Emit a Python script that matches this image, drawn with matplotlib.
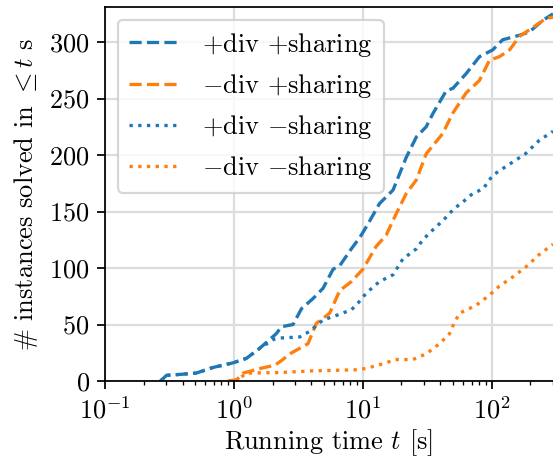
import numpy as np
import matplotlib
matplotlib.use('Agg')
import matplotlib.pyplot as plt

plt.rcParams['font.family'] = 'cmr10'
plt.rcParams['mathtext.fontset'] = 'cm'
plt.rcParams['axes.formatter.use_mathtext'] = True
plt.rcParams['font.size'] = 12

# +div +sharing
t_div_sh = [0.27, 0.30, 0.40, 0.51, 0.69, 0.98, 1.25, 1.59, 2.14, 2.34, 2.88, 3.35, 4.12, 4.92,
            5.9, 6.63, 8.17, 9.5, 11.0, 13.5, 16.2, 17.2, 21.8, 26.1, 31.1, 35.2, 44.6, 50.1,
            63.5, 80.6, 102, 122, 165, 197, 249, 300]
n_div_sh = [0, 5, 6, 7, 12, 16, 20, 29, 42, 48, 50, 64, 73, 82,
            99, 102, 117, 127, 139, 157, 166, 169, 198, 216, 225, 237, 257, 259,
            272, 287, 293, 302, 306, 309, 319, 325]

# -div +sharing
t_nodiv_sh = [0.90, 1.05, 1.18, 1.59, 2.08, 2.34, 2.72, 3.25, 3.76, 4.37, 5.54, 6.63, 8.17,
              10.05, 12.7, 15.2, 18.2, 21.8, 26.1, 31.1, 41.8, 50, 63.5, 80.6, 96.5, 115,
              138, 165, 210, 265, 300]
n_nodiv_sh = [0, 1, 7, 11, 14, 18, 24, 29, 33, 51, 60, 80, 88,
              99, 119, 129, 148, 166, 178, 201, 219, 237, 255, 266, 284, 287,
              293, 305, 313, 321, 322]

# +div -sharing
t_div_nosh = [0.27, 0.30, 0.40, 0.51, 0.69, 0.98, 1.25, 1.59, 2.05, 2.27, 3.25, 3.88, 4.92,
              6.24, 8.17, 9.2, 10.7, 13.5, 17.2, 20.5, 26.1, 29.3, 35.2, 42, 51.6, 58,
              71.6, 86, 102, 130, 183, 235, 300]
n_div_nosh = [0, 5, 6, 7, 12, 16, 20, 29, 37, 38, 39, 44, 54,
              58, 63, 69, 78, 88, 94, 108, 117, 125, 134, 142, 153, 157,
              166, 170, 182, 190, 201, 213, 221]

# -div -sharing
t_nodiv_nosh = [1.0, 1.1, 1.25, 2.27, 4.12, 9.5, 11.3, 15.2, 17.7, 24.5, 31.1, 39.5, 47.3,
                51.6, 56.5, 76, 96.5, 115, 146, 185, 235, 300]
n_nodiv_nosh = [0, 2, 7, 7.5, 9, 10, 12, 16, 19, 19, 24, 33, 42,
                52, 60, 67, 76, 84, 92, 101, 112, 121]

fig = plt.figure(figsize=(3.5, 460 / 158), dpi=158)
ax = fig.add_axes([105 / 553, 79 / 460, 448 / 553, 374 / 460])

ax.plot(t_div_sh, n_div_sh, '--', color='tab:blue', label=r'$+$div $+$sharing')
ax.plot(t_nodiv_sh, n_nodiv_sh, '--', color='tab:orange', label=r'$-$div $+$sharing')
ax.plot(t_div_nosh, n_div_nosh, ':', color='tab:blue', label=r'$+$div $-$sharing')
ax.plot(t_nodiv_nosh, n_nodiv_nosh, ':', color='tab:orange', label=r'$-$div $-$sharing')

ax.set_xscale('log')
ax.set_xlim(0.1, 300)
ax.set_ylim(0, 331)
ax.set_yticks([0, 50, 100, 150, 200, 250, 300])
ax.grid(True, which='major', color='#dddddd', linewidth=1.0)
ax.set_axisbelow(True)
ax.spines['right'].set_visible(False)

ax.set_xlabel(r'Running time $t$ [s]', labelpad=2)
ax.set_ylabel(r'# instances solved in $\leq t$ s')
ax.legend(loc='upper left')

fig.savefig('out.png', dpi=158)
